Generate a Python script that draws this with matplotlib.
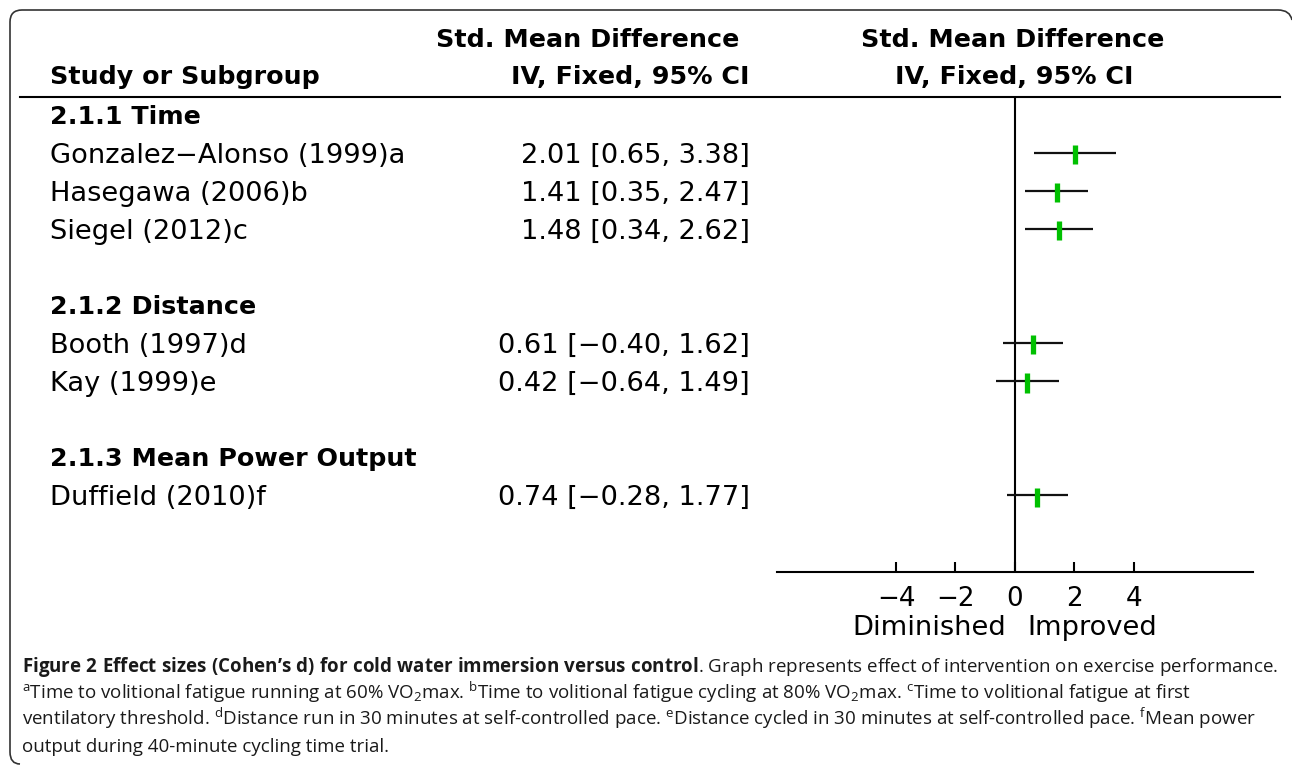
import matplotlib
matplotlib.use("Agg")
import matplotlib.pyplot as plt
from matplotlib.path import Path
from matplotlib.patches import PathPatch

##
## forest plot: cold water immersion vs control
##

groups = ["2.1.1 Time", "2.1.2 Distance", "2.1.3 Mean Power Output"]
studies = ["Gonzalez\u2212Alonso (1999)a", "Hasegawa (2006)b", "Siegel (2012)c",
           "Booth (1997)d", "Kay (1999)e", "Duffield (2010)f"]
study_group = [0, 0, 0, 1, 1, 2]
smd = [2.01, 1.41, 1.48, 0.61, 0.42, 0.74]
ci_low = [0.65, 0.35, 0.34, -0.40, -0.64, -0.28]
ci_high = [3.38, 2.47, 2.62, 1.62, 1.49, 1.77]
x_ticks = [-4, -2, 0, 2, 4]

caption = [
    r"$\mathbf{Figure\ 2\ Effect\ sizes\ (Cohen’s\ d)\ for\ cold\ water\ immersion\ versus\ control}$. "
    "Graph represents effect of intervention on exercise performance.",
    r"$^{\mathrm{a}}$Time to volitional fatigue running at 60% VO$_{\mathrm{2}}$max. "
    r"$^{\mathrm{b}}$Time to volitional fatigue cycling at 80% VO$_{\mathrm{2}}$max. "
    r"$^{\mathrm{c}}$Time to volitional fatigue at first",
    r"ventilatory threshold. $^{\mathrm{d}}$Distance run in 30 minutes at self-controlled pace. "
    r"$^{\mathrm{e}}$Distance cycled in 30 minutes at self-controlled pace. $^{\mathrm{f}}$Mean power",
    "output during 40-minute cycling time trial.",
]

W, H = 1292, 766
ROW0, ROW_STEP = 115, 38
FS = 19.6       # regular text
FS_B = 18.3     # bold headers
FS_TICK = 18.8
CAP_FS = 13.5

plt.rcParams['font.family'] = ['DejaVu Sans']
plt.rcParams['mathtext.fontset'] = 'custom'
plt.rcParams['mathtext.rm'] = 'Open Sans'
plt.rcParams['mathtext.bf'] = 'Open Sans:bold'
plt.rcParams['mathtext.it'] = 'Open Sans:italic'


def fmt(v):
    return ("%.2f" % v).replace("-", "\u2212")


fig = plt.figure(figsize=(W / 100.0, H / 100.0), dpi=100)
bg = fig.add_axes([0, 0, 1, 1])
bg.set_xlim(0, W)
bg.set_ylim(H, 0)
bg.axis('off')

# frame (top + left, rounded corners)
verts = [(1292, 20), (1290, 10), (1278, 10), (22, 10), (10, 10), (10, 22),
         (10, 752), (10, 764), (20, 764)]
codes = [Path.MOVETO, Path.CURVE3, Path.CURVE3, Path.LINETO, Path.CURVE3, Path.CURVE3,
         Path.LINETO, Path.CURVE3, Path.CURVE3]
bg.add_patch(PathPatch(Path(verts, codes), fill=False, edgecolor='#333333', lw=1.2))

# headers
bg.text(50, 77, "Study or Subgroup", fontsize=FS_B, fontweight='bold', va='center')
bg.text(588, 40, "Std. Mean Difference", fontsize=FS_B, fontweight='bold', va='center', ha='center')
bg.text(630, 77, "IV, Fixed, 95% CI", fontsize=FS_B, fontweight='bold', va='center', ha='center')
bg.text(1013, 40, "Std. Mean Difference", fontsize=FS_B, fontweight='bold', va='center', ha='center')
bg.text(1014, 77, "IV, Fixed, 95% CI", fontsize=FS_B, fontweight='bold', va='center', ha='center')
bg.plot([20, 1280], [97, 97], color='black', lw=1.5)

# forest axes, shares pixel y with background
ax = fig.add_axes([777.0 / W, 1 - 572.0 / H, 476.0 / W, 475.0 / H])
ax.set_xlim(-8, 8)
ax.set_ylim(572, 97)
ax.patch.set_alpha(0)
for s in ['top', 'left', 'right']:
    ax.spines[s].set_visible(False)
ax.spines['bottom'].set_linewidth(1.5)
ax.set_yticks([])
ax.set_xticks(x_ticks)
ax.set_xticklabels([str(t).replace("-", "\u2212") for t in x_ticks])
ax.tick_params(axis='x', direction='in', length=7, width=1.5, labelsize=FS_TICK, pad=10)
ax.axvline(0, color='black', lw=1.5)

row = 0
for g, gname in enumerate(groups):
    y = ROW0 + ROW_STEP * row
    bg.text(50, y + 9, gname, fontsize=FS_B, fontweight='bold', va='baseline')
    row += 1
    for i in range(len(studies)):
        if study_group[i] != g:
            continue
        y = ROW0 + ROW_STEP * row
        bg.text(50, y + 10, studies[i], fontsize=FS, va='baseline')
        bg.text(750, y + 10, "%s [%s, %s]" % (fmt(smd[i]), fmt(ci_low[i]), fmt(ci_high[i])),
                fontsize=FS, va='baseline', ha='right')
        ax.plot([ci_low[i], ci_high[i]], [y, y], color='#111111', lw=1.6, solid_capstyle='butt')
        ax.vlines(smd[i], y - 7.5, y + 11.5, color='#00c000', lw=3.8)
        row += 1
    row += 1

ax.text(-0.3, -0.118, "Diminished", transform=ax.get_xaxis_transform(),
        fontsize=FS, ha='right', va='center')
ax.text(0.4, -0.118, "Improved", transform=ax.get_xaxis_transform(),
        fontsize=FS, ha='left', va='center')

# caption
for k, line in enumerate(caption):
    bg.text(22, 672 + 26.5 * k, line, fontsize=CAP_FS, family='Open Sans',
            color='#1a1a1a', va='baseline')

plt.savefig("out.png", dpi=100)
